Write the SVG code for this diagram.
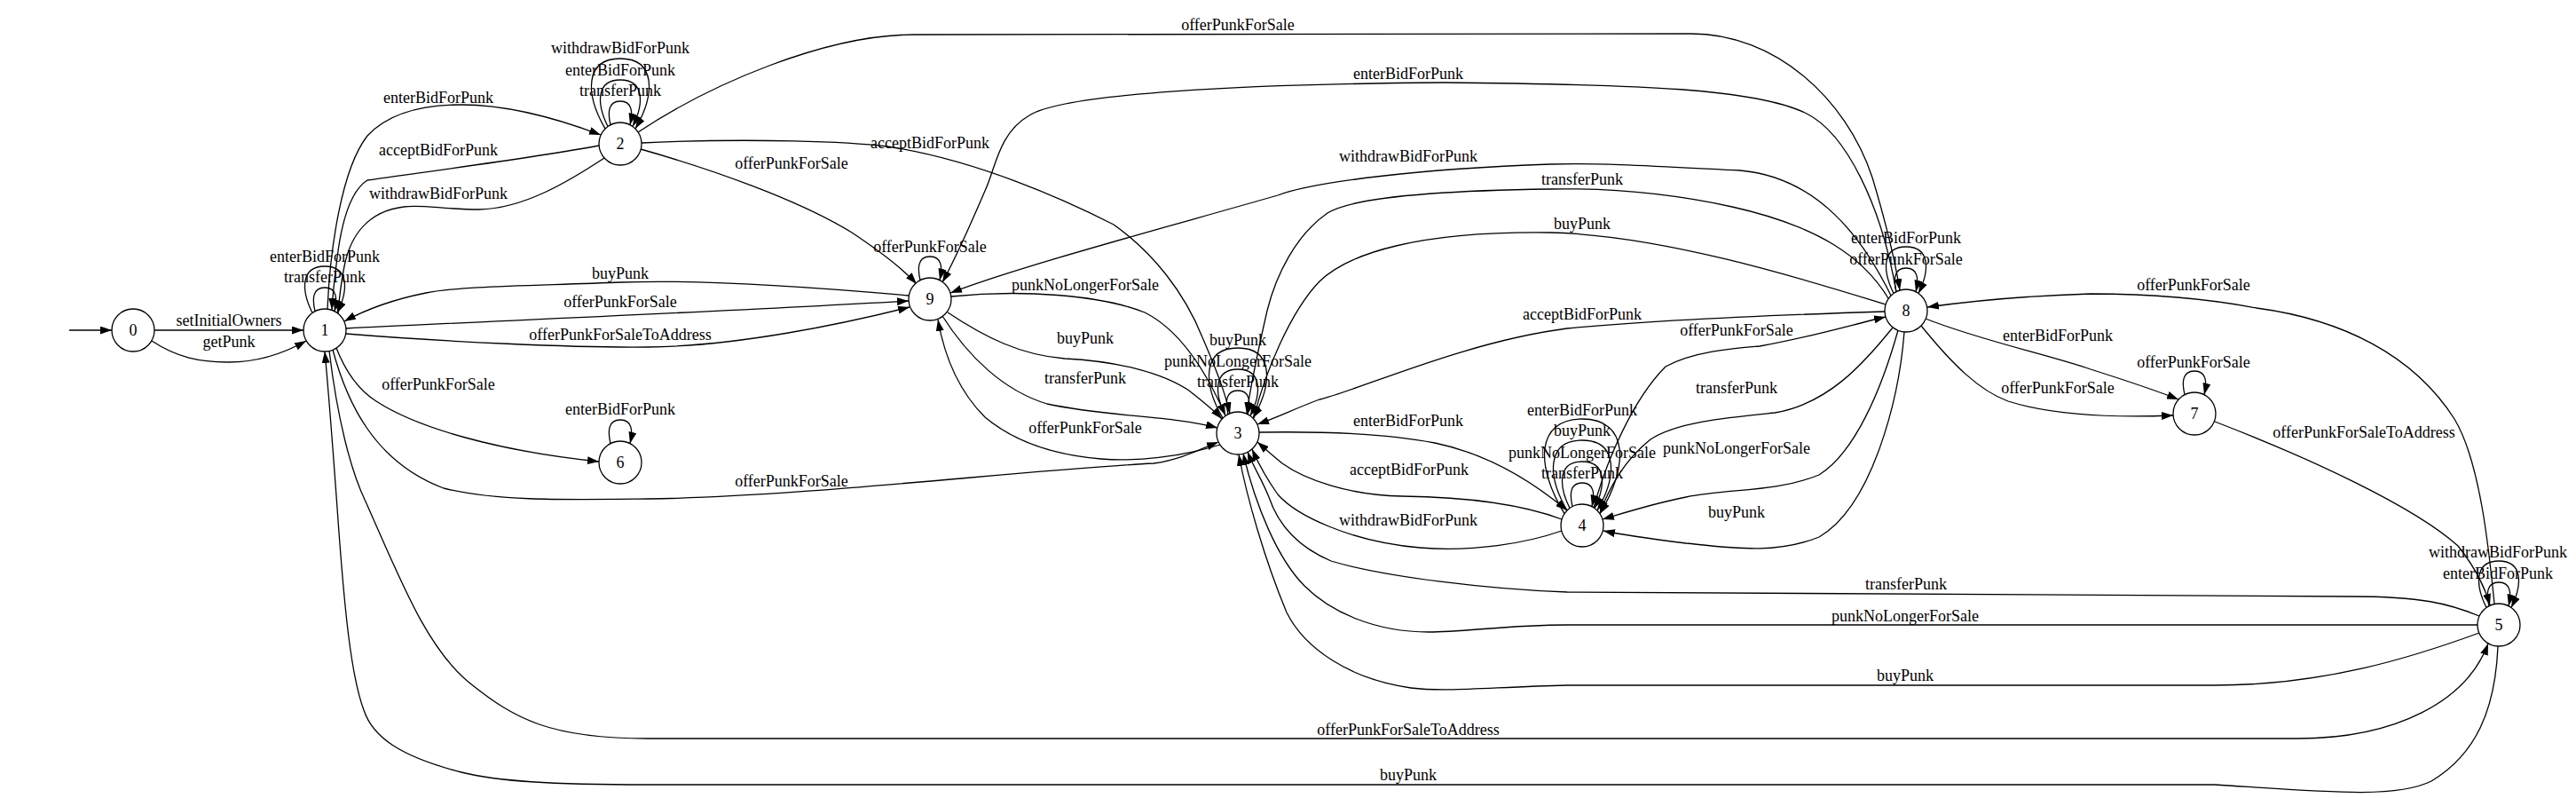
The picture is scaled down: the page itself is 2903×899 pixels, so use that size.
<svg xmlns="http://www.w3.org/2000/svg" width="2903" height="899" viewBox="0 0 2903 899">
<style>
.e{fill:none;stroke:#000;stroke-width:1.3;marker-end:url(#ah)}
.n{fill:#fff;stroke:#000;stroke-width:1.3}
text{font-family:"Liberation Serif","Times New Roman",serif;font-size:18px;fill:#000;text-anchor:middle}
</style>
<defs>
<marker id="ah" markerUnits="userSpaceOnUse" markerWidth="13" markerHeight="9" refX="13" refY="4.5" orient="auto"><path d="M0,0 L13,4.5 L0,9 z" fill="#000"/></marker>
</defs>
<rect width="2903" height="899" fill="#fff"/>
<g id="connectors">
<path class="e" d="M78,372 L126,372"/>
<path class="e" d="M174,372 L342,372"/><text x="258" y="367">setInitialOwners</text>
<path class="e" d="M171,384 C200,403 225,408 258,408 C290,408 320,398 345,384"/><text x="258" y="391">getPunk</text>
<path class="e" transform="translate(366,372)" d="M-11,-21.3 C-14.1,-34.7 -14.1,-48 0,-48 C14.1,-48 14.1,-34.7 11,-21.3"/><text x="366" y="318">transferPunk</text>
<path class="e" transform="translate(366,372)" d="M-14,-19.5 C-27,-45.8 -27,-72 0,-72 C27,-72 27,-45.8 14,-19.5"/><text x="366" y="295">enterBidForPunk</text>
<path class="e" d="M369,348 C372,280 385,190 414,153 C440,125 480,118 520,118 C580,118 640,138 677,152"/><text x="494" y="116">enterBidForPunk</text>
<path class="e" d="M675,164 C600,178 470,195 414,203 C395,215 385,250 380,290 C377,315 375,330 374,349"/><text x="494" y="175">acceptBidForPunk</text>
<path class="e" d="M681,178 C640,205 590,235 540,236 C500,236 475,230 455,233 C415,238 395,265 388,300 C384,320 382,340 381,353"/><text x="494" y="224">withdrawBidForPunk</text>
<path class="e" transform="translate(699,162)" d="M-11,-21.3 C-14.1,-34.7 -14.1,-48 0,-48 C14.1,-48 14.1,-34.7 11,-21.3"/><text x="699" y="108">transferPunk</text>
<path class="e" transform="translate(699,162)" d="M-14,-19.5 C-27,-45.8 -27,-72 0,-72 C27,-72 27,-45.8 14,-19.5"/><text x="699" y="85">enterBidForPunk</text>
<path class="e" transform="translate(699,162)" d="M-17,-16.9 C-39.9,-56.5 -39.9,-96 0,-96 C39.9,-96 39.9,-56.5 17,-16.9"/><text x="699" y="60">withdrawBidForPunk</text>
<path class="e" d="M1024,333 C900,322 780,315 700,318 C600,322 520,322 480,330 C440,338 410,350 388,362"/><text x="699" y="314">buyPunk</text>
<path class="e" d="M390,370 C500,364 800,352 1024,339"/><text x="699" y="346">offerPunkForSale</text>
<path class="e" d="M390,376 C500,385 650,392 730,391 C830,390 950,365 1025,346"/><text x="699" y="383">offerPunkForSaleToAddress</text>
<path class="e" d="M379,392 C390,420 405,440 424,452 C470,482 560,508 675,520"/><text x="494" y="439">offerPunkForSale</text>
<path class="e" transform="translate(699,521)" d="M-11,-21.3 C-14.1,-34.7 -14.1,-48 0,-48 C14.1,-48 14.1,-34.7 11,-21.3"/><text x="699" y="467">enterBidForPunk</text>
<path class="e" d="M375,394 C390,450 420,520 500,550 C560,565 640,563 730,562 C900,560 1150,530 1300,522 C1330,518 1355,505 1373,498"/><text x="892" y="548">offerPunkForSale</text>
<path class="e" d="M371,395 C380,470 395,530 412,565 C450,650 480,730 530,770 C580,810 620,832 730,832 L2589,832 C2700,832 2780,790 2804,725"/><text x="1587" y="828">offerPunkForSaleToAddress</text>
<path class="e" d="M2815,728 C2812,800 2790,850 2740,880 C2700,900 2620,892 2496,884 L730,884 C620,884 560,880 520,870 C450,852 420,830 410,800 C395,760 388,680 382,600 C377,530 372,460 366,396"/><text x="1587" y="879">buyPunk</text>
<path class="e" d="M719,149 C800,95 930,39 1030,39 L1906,38 C2000,38 2080,110 2110,200 C2125,250 2135,290 2141,327"/><text x="1395" y="34">offerPunkForSale</text>
<path class="e" d="M723,161 C850,155 960,160 1000,165 C1100,180 1200,225 1255,253 C1300,285 1335,330 1355,380 C1370,415 1380,440 1386,466"/><text x="1048" y="167">acceptBidForPunk</text>
<path class="e" d="M722,168 C800,190 900,225 960,262 C990,282 1015,300 1033,320"/><text x="892" y="190">offerPunkForSale</text>
<path class="e" transform="translate(1048,337)" d="M-11,-21.3 C-14.1,-34.7 -14.1,-48 0,-48 C14.1,-48 14.1,-34.7 11,-21.3"/><text x="1048" y="284">offerPunkForSale</text>
<path class="e" d="M2137,329 C2120,230 2080,150 2036,128 C1980,100 1850,95 1626,93 C1400,95 1200,105 1160,130 C1125,150 1122,190 1110,215 C1095,250 1080,285 1062,318"/><text x="1587" y="89">enterBidForPunk</text>
<path class="e" d="M2131,333 C2100,270 2050,200 1961,192 C1880,188 1800,183 1747,185 C1600,190 1480,205 1440,220 C1300,260 1150,300 1071,330"/><text x="1587" y="182">withdrawBidForPunk</text>
<path class="e" d="M2128,336 C2100,290 2050,255 1952,233 C1870,215 1800,212 1747,213 C1600,215 1520,225 1496,240 C1460,265 1438,310 1428,350 C1420,385 1410,430 1405,466"/><text x="1783" y="208">transferPunk</text>
<path class="e" d="M2125,343 C2050,320 1880,265 1747,262 C1600,260 1520,285 1487,317 C1455,350 1425,420 1413,471"/><text x="1783" y="258">buyPunk</text>
<path class="e" d="M2124,351 C2000,355 1850,362 1766,370 C1650,385 1530,440 1487,450 C1460,460 1440,470 1417,478"/><text x="1783" y="360">acceptBidForPunk</text>
<path class="e" d="M1072,334 C1150,326 1240,332 1290,352 C1330,372 1360,420 1381,468"/><text x="1223" y="327">punkNoLongerForSale</text>
<path class="e" d="M1068,352 C1110,380 1150,400 1200,404 C1260,407 1310,420 1340,440 C1355,452 1368,462 1377,472"/><text x="1223" y="387">buyPunk</text>
<path class="e" d="M1062,356 C1090,400 1130,440 1180,455 C1250,470 1320,468 1372,482"/><text x="1223" y="432">transferPunk</text>
<path class="e" d="M1375,501 C1330,515 1280,520 1241,517 C1180,512 1140,495 1110,470 C1080,440 1064,400 1057,360"/><text x="1223" y="488">offerPunkForSale</text>
<path class="e" transform="translate(1395,488)" d="M-11,-21.3 C-14.1,-34.7 -14.1,-48 0,-48 C14.1,-48 14.1,-34.7 11,-21.3"/><text x="1395" y="436">transferPunk</text>
<path class="e" transform="translate(1395,488)" d="M-14,-19.5 C-27,-45.8 -27,-72 0,-72 C27,-72 27,-45.8 14,-19.5"/><text x="1395" y="413">punkNoLongerForSale</text>
<path class="e" transform="translate(1395,488)" d="M-17,-16.9 C-39.9,-56.5 -39.9,-96 0,-96 C39.9,-96 39.9,-56.5 17,-16.9"/><text x="1395" y="389">buyPunk</text>
<path class="e" d="M1419,487 C1480,486 1560,488 1617,499 C1680,512 1730,545 1766,575"/><text x="1587" y="480">enterBidForPunk</text>
<path class="e" d="M1760,585 C1720,570 1660,560 1580,559 C1520,558 1470,540 1445,522 C1435,514 1425,505 1417,498"/><text x="1588" y="535">acceptBidForPunk</text>
<path class="e" d="M1760,598 C1720,612 1660,622 1600,617 C1520,610 1460,580 1440,557 C1428,540 1418,522 1411,506"/><text x="1587" y="592">withdrawBidForPunk</text>
<path class="e" transform="translate(1783,592)" d="M-11,-21.3 C-14.1,-34.7 -14.1,-48 0,-48 C14.1,-48 14.1,-34.7 11,-21.3"/><text x="1783" y="539">transferPunk</text>
<path class="e" transform="translate(1783,592)" d="M-14,-19.5 C-27,-45.8 -27,-72 0,-72 C27,-72 27,-45.8 14,-19.5"/><text x="1783" y="516">punkNoLongerForSale</text>
<path class="e" transform="translate(1783,592)" d="M-17,-16.9 C-39.9,-56.5 -39.9,-96 0,-96 C39.9,-96 39.9,-56.5 17,-16.9"/><text x="1783" y="491">buyPunk</text>
<path class="e" transform="translate(1783,592)" d="M-20,-13.3 C-52.7,-66.7 -52.7,-120 0,-120 C52.7,-120 52.7,-66.7 20,-13.3"/><text x="1783" y="468">enterBidForPunk</text>
<path class="e" d="M1796,572 C1810,520 1840,450 1877,413 C1910,395 1960,392 1983,390 C2040,380 2090,365 2125,357"/><text x="1957" y="378">offerPunkForSale</text>
<path class="e" d="M2133,369 C2100,410 2060,455 2000,465 C1950,470 1890,475 1860,495 C1835,515 1815,545 1803,578"/><text x="1957" y="443">transferPunk</text>
<path class="e" d="M2139,372 C2120,440 2090,510 2050,535 C2000,555 1950,550 1900,560 C1860,568 1830,578 1806,585"/><text x="1957" y="511">punkNoLongerForSale</text>
<path class="e" d="M2146,374 C2140,450 2110,570 2050,605 C2000,625 1950,617 1900,612 C1860,607 1830,603 1807,598"/><text x="1957" y="583">buyPunk</text>
<path class="e" transform="translate(2148,350)" d="M-11,-21.3 C-14.1,-34.7 -14.1,-48 0,-48 C14.1,-48 14.1,-34.7 11,-21.3"/><text x="2148" y="298">offerPunkForSale</text>
<path class="e" transform="translate(2148,350)" d="M-14,-19.5 C-27,-45.8 -27,-72 0,-72 C27,-72 27,-45.8 14,-19.5"/><text x="2148" y="274">enterBidForPunk</text>
<path class="e" d="M2170,359 C2230,383 2310,400 2356,416 C2400,430 2430,440 2455,450"/><text x="2319" y="384">enterBidForPunk</text>
<path class="e" d="M2165,367 C2200,410 2230,440 2263,452 C2320,470 2400,470 2449,468"/><text x="2319" y="443">offerPunkForSale</text>
<path class="e" transform="translate(2473,466)" d="M-11,-21.3 C-14.1,-34.7 -14.1,-48 0,-48 C14.1,-48 14.1,-34.7 11,-21.3"/><text x="2472" y="414">offerPunkForSale</text>
<path class="e" d="M2811,680 C2805,620 2795,520 2766,472 C2720,400 2640,360 2543,347 C2480,335 2420,331 2356,331 C2290,333 2230,338 2172,346"/><text x="2472" y="327">offerPunkForSale</text>
<path class="e" d="M2496,475 C2600,515 2720,570 2770,615 C2790,640 2800,660 2806,682"/><text x="2664" y="493">offerPunkForSaleToAddress</text>
<path class="e" transform="translate(2816,704)" d="M-11,-21.3 C-14.1,-34.7 -14.1,-48 0,-48 C14.1,-48 14.1,-34.7 11,-21.3"/><text x="2815" y="652">enterBidForPunk</text>
<path class="e" transform="translate(2816,704)" d="M-14,-19.5 C-27,-45.8 -27,-72 0,-72 C27,-72 27,-45.8 14,-19.5"/><text x="2815" y="628">withdrawBidForPunk</text>
<path class="e" d="M2794,694 C2760,680 2729,672 2650,672 L1766,667 C1680,664 1560,650 1500,632 C1460,615 1440,590 1430,560 C1422,540 1412,525 1406,509"/><text x="2148" y="664">transferPunk</text>
<path class="e" d="M2792,704 L1766,704 C1700,704 1650,712 1610,712 C1550,712 1500,690 1470,660 C1440,630 1415,570 1401,511"/><text x="2147" y="700">punkNoLongerForSale</text>
<path class="e" d="M2794,713 C2720,740 2620,772 2496,772 L1766,772 C1680,774 1630,780 1590,775 C1520,765 1470,730 1450,690 C1425,630 1405,560 1396,512"/><text x="2147" y="767">buyPunk</text>
</g>
<g id="node0"><circle class="n" cx="150" cy="372" r="24"/><text x="150" y="378">0</text></g>
<g id="node1"><circle class="n" cx="366" cy="372" r="24"/><text x="366" y="378">1</text></g>
<g id="node2"><circle class="n" cx="699" cy="162" r="24"/><text x="699" y="168">2</text></g>
<g id="node3"><circle class="n" cx="1395" cy="488" r="24"/><text x="1395" y="494">3</text></g>
<g id="node4"><circle class="n" cx="1783" cy="592" r="24"/><text x="1783" y="598">4</text></g>
<g id="node5"><circle class="n" cx="2816" cy="704" r="24"/><text x="2816" y="710">5</text></g>
<g id="node6"><circle class="n" cx="699" cy="521" r="24"/><text x="699" y="527">6</text></g>
<g id="node7"><circle class="n" cx="2473" cy="466" r="24"/><text x="2473" y="472">7</text></g>
<g id="node8"><circle class="n" cx="2148" cy="350" r="24"/><text x="2148" y="356">8</text></g>
<g id="node9"><circle class="n" cx="1048" cy="337" r="24"/><text x="1048" y="343">9</text></g>
</svg>
